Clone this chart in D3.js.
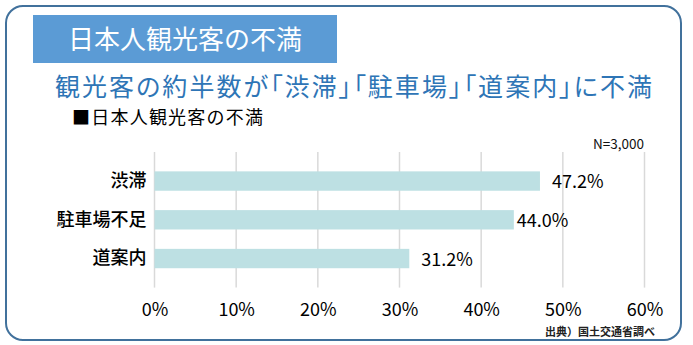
<!DOCTYPE html>
<html>
<head>
<meta charset="utf-8">
<script src="https://cdn.jsdelivr.net/npm/d3@7"></script>
<style>
  body { margin: 0; background: #fff; }
  svg text { font-family: "Noto Sans CJK JP", sans-serif; }
  .headline { font-feature-settings: "palt"; }
</style>
</head>
<body>
<div id="chart"></div>
<script>
// survey results (%)
var categories = ["渋滞", "駐車場不足", "道案内"];
var values = [47.2, 44.0, 31.2];
var tickValues = [0, 10, 20, 30, 40, 50, 60];
var titleText = "日本人観光客の不満";
var headline = "観光客の約半数が「渋滞」「駐車場」「道案内」に不満";
var legendText = "■日本人観光客の不満";
var sampleNote = "N=3,000";
var sourceNote = "出典）国土交通省調べ";

// label nudges (px) to the right of each bar end
var labelGap = [12, 3, 12];

var width = 693, height = 345;
var svg = d3.select("#chart").append("svg")
    .attr("width", width)
    .attr("height", height);

// rounded frame
svg.append("rect")
    .attr("x", 6).attr("y", 6)
    .attr("width", 675).attr("height", 334)
    .attr("rx", 17).attr("ry", 17)
    .attr("fill", "#fff")
    .attr("stroke", "#41719c")
    .attr("stroke-width", 2);

// title banner
svg.append("rect")
    .attr("x", 33).attr("y", 15)
    .attr("width", 304).attr("height", 48)
    .attr("fill", "#5b9bd5");
svg.append("text")
    .attr("x", 185).attr("y", 40)
    .attr("dy", "0.35em")
    .attr("text-anchor", "middle")
    .attr("fill", "#fff")
    .attr("font-size", 26)
    .text(titleText);

svg.append("text")
    .attr("class", "headline")
    .attr("x", 55).attr("y", 87)
    .attr("dy", "0.35em")
    .attr("fill", "#2e75b6")
    .attr("font-size", 25)
    .attr("textLength", 597)
    .text(headline);

svg.append("text")
    .attr("x", 72).attr("y", 118)
    .attr("dy", "0.35em")
    .attr("fill", "#000")
    .attr("font-size", 18)
    .attr("textLength", 191)
    .text(legendText);

var margin = {top: 152, left: 154.5};
var plotW = 490, plotH = 135.6;
var g = svg.append("g")
    .attr("transform", "translate(" + margin.left + "," + margin.top + ")");

var x = d3.scaleLinear().domain([0, 60]).range([0, plotW]);
var y = d3.scaleBand().domain(categories).range([0, plotH]).padding(0.5);

// vertical gridlines
g.selectAll(".grid")
    .data(tickValues)
    .enter().append("line")
    .attr("x1", function(d) { return x(d); })
    .attr("x2", function(d) { return x(d); })
    .attr("y1", 0).attr("y2", plotH)
    .attr("stroke", "#d9d9d9")
    .attr("stroke-width", 1.5);

g.selectAll(".bar")
    .data(values)
    .enter().append("rect")
    .attr("x", 0)
    .attr("y", function(d, i) { return y(categories[i]); })
    .attr("width", function(d) { return x(d); })
    .attr("height", y.bandwidth())
    .attr("fill", "#bde0e3");

g.selectAll(".val")
    .data(values)
    .enter().append("text")
    .attr("x", function(d, i) { return x(d) + labelGap[i]; })
    .attr("y", function(d, i) { return y(categories[i]) + y.bandwidth() / 2 + 1; })
    .attr("dy", "0.35em")
    .attr("font-family", "Lato, sans-serif")
    .attr("font-size", 18)
    .attr("fill", "#000")
    .text(function(d) { return d.toFixed(1) + "%"; });

// category axis (labels only)
var yAxis = g.append("g")
    .call(d3.axisLeft(y).tickSize(0).tickPadding(8));
yAxis.select(".domain").remove();
yAxis.selectAll("text")
    .attr("font-family", "Noto Sans CJK JP, sans-serif")
    .attr("font-size", 18)
    .attr("font-weight", 500)
    .attr("fill", "#000");

// value axis (labels only)
var xAxis = g.append("g")
    .attr("transform", "translate(0," + plotH + ")")
    .call(d3.axisBottom(x).tickValues(tickValues).tickSize(0).tickPadding(16)
        .tickFormat(function(d) { return d + "%"; }));
xAxis.select(".domain").remove();
xAxis.selectAll("text")
    .attr("font-family", "Lato, sans-serif")
    .attr("font-size", 18)
    .attr("fill", "#000");

svg.append("text")
    .attr("x", 644).attr("y", 144)
    .attr("dy", "0.35em")
    .attr("text-anchor", "end")
    .attr("font-family", "Liberation Sans, Arial, sans-serif")
    .attr("font-size", 13.5)
    .attr("fill", "#111")
    .text(sampleNote);

svg.append("text")
    .attr("x", 545).attr("y", 332)
    .attr("dy", "0.35em")
    .attr("font-size", 11)
    .attr("font-weight", "bold")
    .attr("fill", "#222")
    .attr("textLength", 110)
    .text(sourceNote);
</script>
</body>
</html>
